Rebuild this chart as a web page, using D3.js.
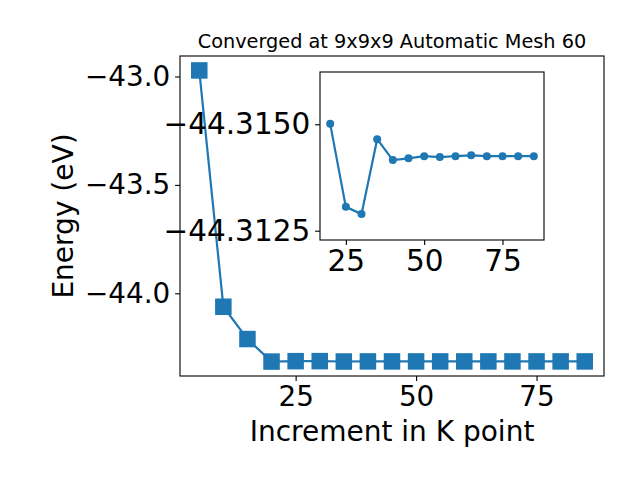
<!DOCTYPE html>
<html>
<head>
<meta charset="utf-8">
<script src="https://cdn.jsdelivr.net/npm/d3@7"></script>
<style>
  html, body { margin: 0; padding: 0; background: #fff; }
  svg text { font-family: "DejaVu Sans", sans-serif; fill: #000; }
</style>
</head>
<body>
<svg id="chart" width="640" height="480"></svg>
<script>
// ---- data ----
const kPoints = [5, 10, 15, 20, 25, 30, 35, 40, 45, 50, 55, 60, 65, 70, 75, 80, 85];
const energies = [-42.972, -44.062, -44.211, -44.31501, -44.31306, -44.31289, -44.31465, -44.31416,
                  -44.31420, -44.31425, -44.31423, -44.31425, -44.31427, -44.31425, -44.31425, -44.31425, -44.31425];
const insetK = [20, 25, 30, 35, 40, 45, 50, 55, 60, 65, 70, 75, 80, 85];
const insetEnergies = [-44.31501, -44.31306, -44.31289, -44.31465, -44.31416, -44.31420, -44.31425,
                       -44.31423, -44.31425, -44.31427, -44.31425, -44.31425, -44.31425, -44.31425];
const mainXTicks = [25, 50, 75];
const mainYTicks = [-43.0, -43.5, -44.0];
const insetXTicks = [25, 50, 75];
const insetYTicks = [-44.3150, -44.3125];
const titleText = "Converged at 9x9x9 Automatic Mesh 60";
const xLabel = "Increment in K point";
const yLabel = "Energy (eV)";

const color = "#1f77b4";
const svg = d3.select("#chart");
const minus = s => s.replace("-", "\u2212");

// ---- main axes ----
const M = {left: 180, right: 604, top: 56, bottom: 376};
const x = d3.scaleLinear().domain([1, 89]).range([M.left, M.right]);
const y = d3.scaleLinear().domain([-44.3815, -42.9054]).range([M.bottom, M.top]);

const gx = svg.append("g").attr("transform", `translate(0,${M.bottom})`)
  .call(d3.axisBottom(x).tickValues(mainXTicks).tickFormat(d3.format("d")).tickSize(4.9).tickPadding(4.9));
const gy = svg.append("g").attr("transform", `translate(${M.left},0)`)
  .call(d3.axisLeft(y).tickValues(mainYTicks).tickFormat(d => minus(d3.format(".1f")(d))).tickSize(4.9).tickPadding(4.9));
[gx, gy].forEach(g => {
  g.select(".domain").remove();
  g.selectAll("line").attr("stroke", "#000").attr("stroke-width", 1.1);
  g.selectAll("text").style("font-size", "27.8px").style("font-family", "DejaVu Sans");
});

const line = d3.line().x((d, i) => x(kPoints[i])).y(d => y(d));
svg.append("path").datum(energies).attr("d", line)
  .attr("fill", "none").attr("stroke", color).attr("stroke-width", 2.2);
const ms = 16.5;
svg.append("g").selectAll("rect").data(energies).join("rect")
  .attr("x", (d, i) => x(kPoints[i]) - ms / 2).attr("y", d => y(d) - ms / 2)
  .attr("width", ms).attr("height", ms).attr("fill", color);

svg.append("rect").attr("x", M.left).attr("y", M.top)
  .attr("width", M.right - M.left).attr("height", M.bottom - M.top)
  .attr("fill", "none").attr("stroke", "#000").attr("stroke-width", 1.1);

svg.append("text").attr("x", (M.left + M.right) / 2).attr("y", 48)
  .attr("text-anchor", "middle").style("font-size", "19.3px").text(titleText);
svg.append("text").attr("x", (M.left + M.right) / 2).attr("y", 441)
  .attr("text-anchor", "middle").style("font-size", "28px").text(xLabel);
svg.append("text").attr("transform", `translate(73,${(M.top + M.bottom) / 2}) rotate(-90)`)
  .attr("text-anchor", "middle").style("font-size", "28px").text(yLabel);

// ---- inset axes ----
const I = {left: 320, right: 544, top: 72, bottom: 240};
const ix = d3.scaleLinear().domain([16.75, 88.25]).range([I.left, I.right]);
const iy = d3.scaleLinear().domain([-44.3150, -44.3125]).range([124.3, 230.7]);

svg.append("rect").attr("x", I.left).attr("y", I.top)
  .attr("width", I.right - I.left).attr("height", I.bottom - I.top)
  .attr("fill", "#fff").attr("stroke", "none");

const igx = svg.append("g").attr("transform", `translate(0,${I.bottom})`)
  .call(d3.axisBottom(ix).tickValues(insetXTicks).tickFormat(d3.format("d")).tickSize(4.9).tickPadding(4.9));
const igy = svg.append("g").attr("transform", `translate(${I.left},0)`)
  .call(d3.axisLeft(iy).tickValues(insetYTicks).tickFormat(d => minus(d3.format(".4f")(d))).tickSize(4.9).tickPadding(4.9));
[igx, igy].forEach(g => {
  g.select(".domain").remove();
  g.selectAll("line").attr("stroke", "#000").attr("stroke-width", 1.1);
  g.selectAll("text").style("font-size", "29.5px").style("font-family", "DejaVu Sans");
});

const iline = d3.line().x((d, i) => ix(insetK[i])).y(d => iy(d));
svg.append("path").datum(insetEnergies).attr("d", iline)
  .attr("fill", "none").attr("stroke", color).attr("stroke-width", 2.2);
svg.append("g").selectAll("circle").data(insetEnergies).join("circle")
  .attr("cx", (d, i) => ix(insetK[i])).attr("cy", d => iy(d)).attr("r", 4).attr("fill", color);

svg.append("rect").attr("x", I.left).attr("y", I.top)
  .attr("width", I.right - I.left).attr("height", I.bottom - I.top)
  .attr("fill", "none").attr("stroke", "#000").attr("stroke-width", 1.1);
</script>
</body>
</html>
